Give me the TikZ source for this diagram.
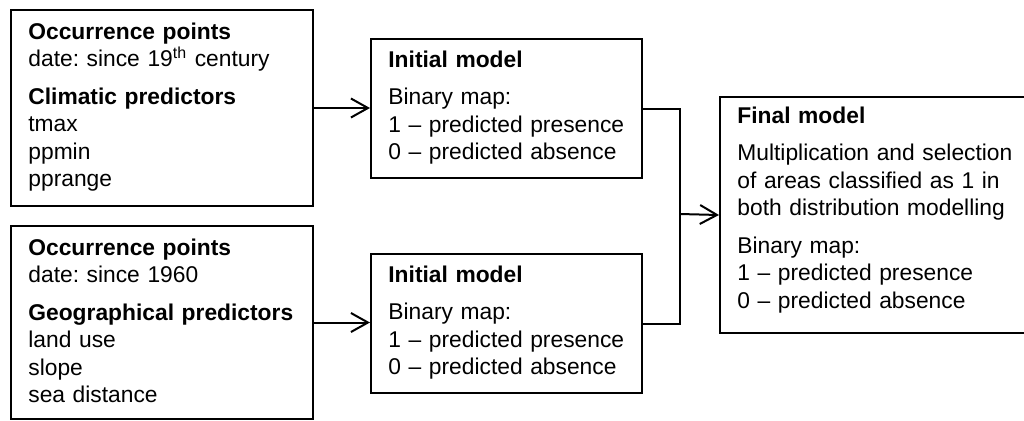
\documentclass[tikz,border=0pt]{standalone}
\usepackage{fontspec}
\setmainfont{Liberation Sans}
\usetikzlibrary{arrows.meta,positioning,calc}
\tikzset{
  box/.style={draw, line width=1pt, anchor=north west, inner sep=0pt},
  txt/.style={anchor=base west, inner sep=0pt, text width=#1, align=left,
    font=\fontsize{11.4}{13.75}\selectfont},
  arr/.style={-{Straight Barb[length=8.5pt,width=9.5pt]}, line width=1pt},
}
\newcommand{\grpgap}{\\[5pt]}
\frenchspacing

\begin{document}
\begin{tikzpicture}[x=0.5pt, y=-0.5pt]
    \useasboundingbox (0,0) rectangle (1024,420);
    % boxes
    \node[box, minimum width=151pt, minimum height=98pt] (occ1) at (10,9) {};
    \node[box, minimum width=151pt, minimum height=96.5pt] (occ2) at (10,225) {};
    \node[box, minimum width=135.5pt, minimum height=69.5pt] (init1) at (370,38) {};
    \node[box, minimum width=135.5pt, minimum height=69.5pt] (init2) at (370,253) {};
    \node[box, minimum width=154pt, minimum height=118pt] (final) at (719,96) {};
    % texts
    \node[txt=145pt] (occ1t) at ($(occ1.north west)+(18,30)$)
      {\textbf{Occurrence points}\\ date: since 19\textsuperscript{th} century\grpgap
       \textbf{Climatic predictors}\\ tmax\\ ppmin\\ pprange};
    \node[txt=145pt] (occ2t) at ($(occ2.north west)+(18,30)$)
      {\textbf{Occurrence points}\\ date: since 1960\grpgap
       \textbf{Geographical predictors}\\ land use\\ slope\\ sea distance};
    \node[txt=130pt] (init1t) at ($(init1.north west)+(18,29)$)
      {\textbf{Initial model}\grpgap
       Binary map:\\ 1 -- predicted presence\\ 0 -- predicted absence};
    \node[txt=130pt] (init2t) at ($(init2.north west)+(18,29)$)
      {\textbf{Initial model}\grpgap
       Binary map:\\ 1 -- predicted presence\\ 0 -- predicted absence};
    \node[txt=148pt] (finalt) at ($(final.north west)+(18,27)$)
      {\textbf{Final model}\grpgap
       Multiplication and selection\\ of areas classified as 1 in\\ both distribution modelling\grpgap
       Binary map:\\ 1 -- predicted presence\\ 0 -- predicted absence};
    % connectors
    \coordinate (join) at (680,214);
    \draw[arr] (occ1.east) -- (occ1.east -| init1.west);
    \draw[arr] (occ2.east) -- (occ2.east -| init2.west);
    \draw[line width=1pt] (init1.east) -| (join) |- (init2.east);
    \draw[arr] (join) -- (final.west);
\end{tikzpicture}
\end{document}
